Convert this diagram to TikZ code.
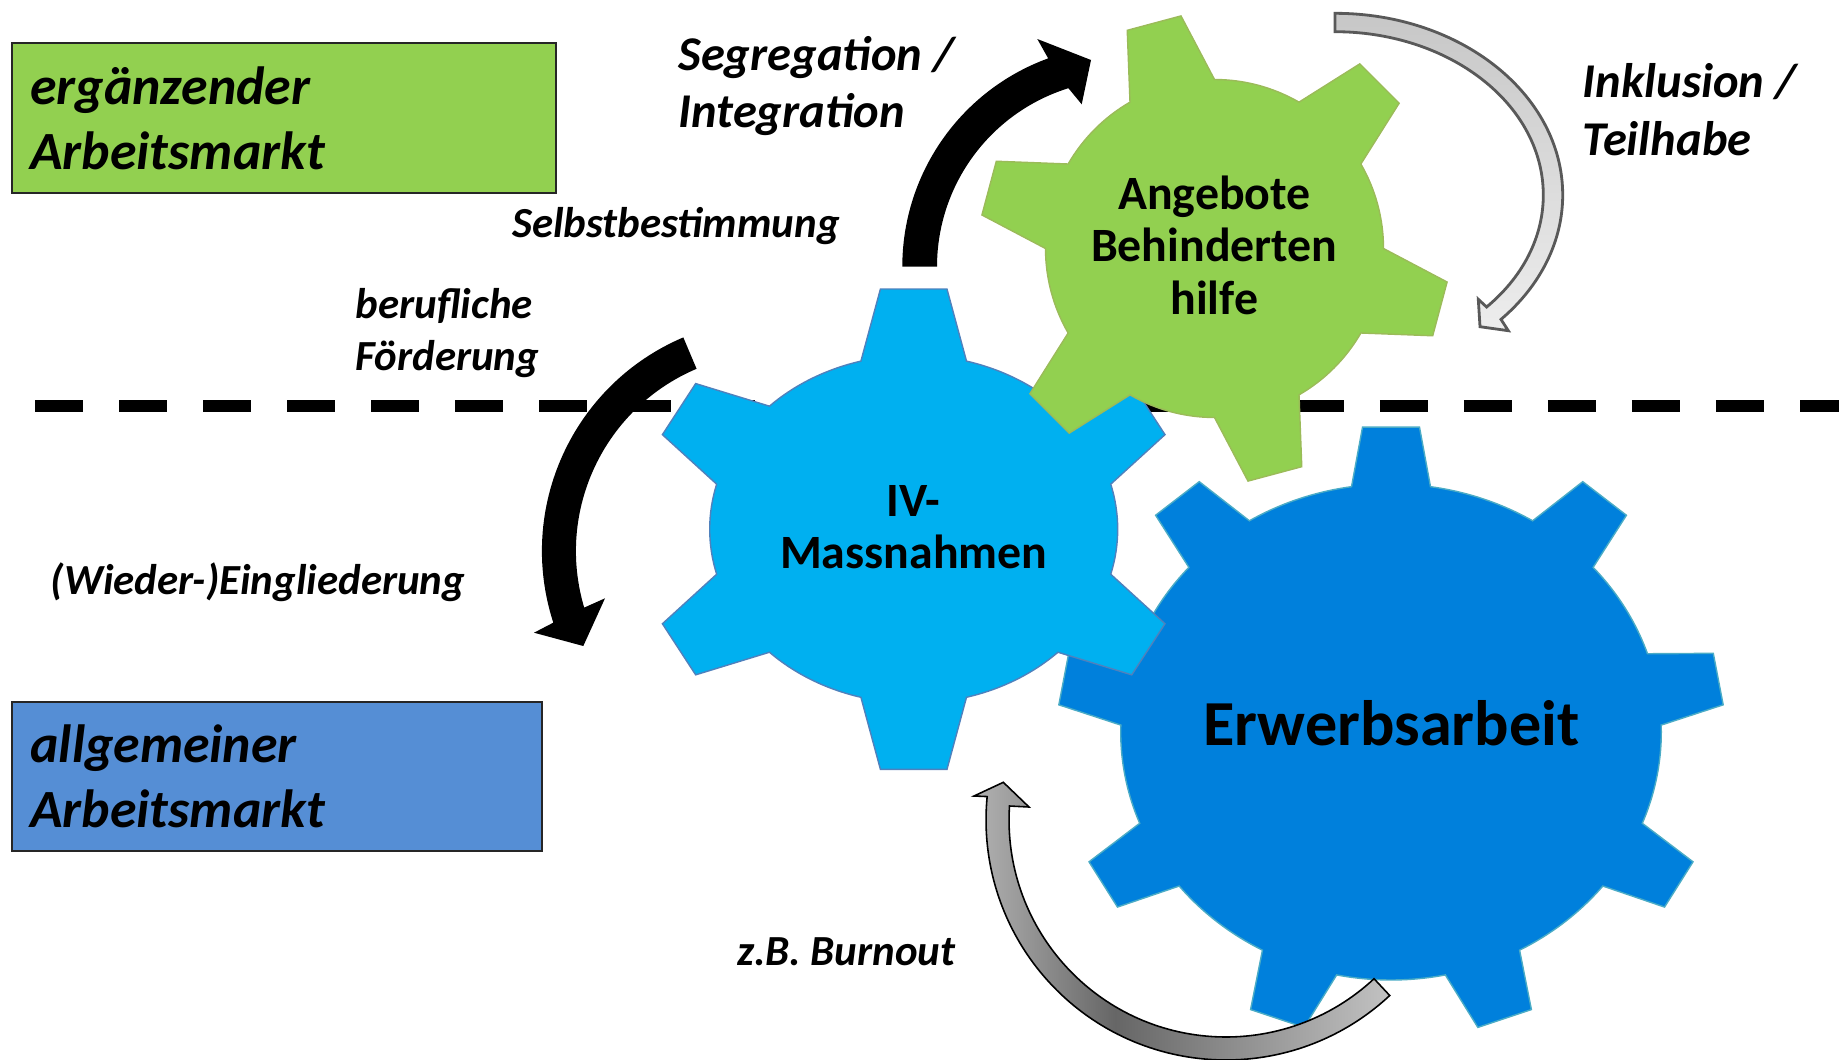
\documentclass[tikz,border=0pt]{standalone}
\usepackage{fontspec}
\setmainfont{Carlito}
\usepackage{xcolor}
\definecolor{ivblue}{HTML}{00B0F0}
\definecolor{ivline}{HTML}{4F81BD}
\definecolor{ehgreen}{HTML}{92D050}
\definecolor{ehline}{HTML}{9BBB59}
\definecolor{jobblue}{HTML}{0080DC}
\definecolor{jobline}{HTML}{4BACC6}
\definecolor{marketblue}{HTML}{558ED5}
\definecolor{arrowline}{HTML}{595959}
\usepackage{tikz}

\pgfdeclarehorizontalshading{burnshade}{100bp}{color(0bp)=(black!30); color(25bp)=(black!30);
    color(42bp)=(black!60); color(75bp)=(black!24); color(100bp)=(black!24)}

% teeth, first tooth angle, body x/y radius, tip x/y radius, half angle at base, half angle at tip
\newcommand{\gearpath}[8]{%
    (#2-#7:#3 and #4)
    \foreach \k [evaluate=\k as \a using #2+(\k-1)*360/#1] in {1,...,#1} {
        -- (\a-#8:#5 and #6) -- (\a+#8:#5 and #6) -- (\a+#7:#3 and #4)
        arc[start angle=\a+#7, end angle=\a+360/#1-#7, x radius=#3, y radius=#4]
    }
    -- cycle
}

\begin{document}
\begin{tikzpicture}[%
    x=0.01cm,
    y=0.01cm,
    every node/.style={inner sep=0},
    marketbox/.style={
        draw=black!85,
        line width=0.55pt,
        align=left,
        inner xsep=0.188cm,
        inner ysep=0,
        font=\bfseries\itshape\fontsize{15.3}{18.5}\selectfont,
    },
    separator/.style={line width=0.117cm, dash pattern=on 0.48cm off 0.36cm},
    ivgear/.style={fill=ivblue, draw=ivline, line width=0.4pt},
    ehgear/.style={fill=ehgreen, draw=ehline, line width=0.4pt},
    jobgear/.style={fill=jobblue, draw=jobline, line width=0.4pt},
    gearname/.style={
        anchor=base,
        align=center,
        font=\bfseries\fontsize{13.6}{14.8}\selectfont,
    },
    turnblack/.style={fill=black},
    turnpale/.style={
        draw=arrowline,
        line width=0.8pt,
        top color=black!22,
        bottom color=black!7,
    },
    turngrey/.style={
        draw=black,
        line width=0.45pt,
        shade,
        shading=burnshade,
    },
    cue/.style={
        anchor=base west,
        align=left,
        font=\bfseries\itshape\fontsize{12.2}{14.7}\selectfont,
    },
    cuelarge/.style={cue, font=\bfseries\itshape\fontsize{13.8}{16.3}\selectfont},
]

\useasboundingbox (0,0) rectangle (1839,1059);

\coordinate (sepwest) at (35,653.2);
\coordinate (sepeast) at (1839,653.2);
\draw[separator] (sepwest) -- (sepeast);

\node[marketbox, fill=ehgreen, text width=5.07cm, minimum height=1.494cm]
    (ergbox) at (284,941) {ergänzender\\Arbeitsmarkt};
\node[marketbox, fill=marketblue, text width=4.924cm, minimum height=1.485cm]
    (allgbox) at (276.7,282.3) {allgemeiner\\Arbeitsmarkt};

\path[jobgear, shift={(1391,327)}] \gearpath{9}{10}{270.3}{248}{333.5}{306}{8.4}{4.9};
\path[ivgear, shift={(913.7,529.8)}] \gearpath{6}{30}{204}{174}{273}{242}{15}{7};
\path[ehgear, shift={(1214.5,810.5)}] \gearpath{6}{45}{169}{169}{235}{235}{15}{6.8};

\node[anchor=base, font=\bfseries\fontsize{18.25}{21}\selectfont]
    (jobtext) at (1391.5,313.6) {Erwerbsarbeit};
\node[gearname] (ivtext) at (913.7,490.7) {IV-\\Massnahmen};
\node[gearname] (ehtext) at (1214.3,745) {Angebote\\Behinderten\\hilfe};

\path[turnblack] (902.3,792.3) arc[start angle=180, end angle=110, radius=221.7]
    -- (1037.3,1020) -- (1091,999) -- (1081.7,954.7) -- (1068.4,970.8)
    arc[start angle=107.3, end angle=180, radius=187] -- cycle;
\path[turnblack] (683.3,721.6) arc[start angle=113, end angle=198, radius=232]
    -- (534,426.3) -- (583.3,413) -- (605,460.7) -- (584.2,451.4)
    arc[start angle=196.6, end angle=113, radius=198] -- cycle;
\path[turnpale] (1335,1045.7) arc[start angle=90, end angle=-43.2, x radius=227.7, y radius=181.7]
    -- (1508.3,728.3) -- (1480,732.3) -- (1478.3,759.7) -- (1486.6,752)
    arc[start angle=-43.3, end angle=90, x radius=208.3, y radius=163.3] -- cycle;
\path[turngrey] (1389.7,63.5) arc[start angle=-47, end angle=-185.6, radius=240]
    -- (974,263) -- (1003.3,276.7) -- (1029,252) -- (1009.5,253)
    arc[start angle=-183.7, end angle=-47, radius=217] -- cycle;

\node[cuelarge] (segtext) at (677.8,931.3) {Segregation /\\Integration};
\node[cue] (selbsttext) at (511.7,821.7) {Selbstbestimmung};
\node[cue] (foerdtext) at (355,689) {berufliche\\Förderung};
\node[cue] (eingltext) at (50,465) {(Wieder-)Eingliederung};
\node[cuelarge] (inkltext) at (1582,904) {Inklusion /\\Teilhabe};
\node[cue] (burntext) at (736.5,94) {z.B. Burnout};

\end{tikzpicture}
\end{document}
